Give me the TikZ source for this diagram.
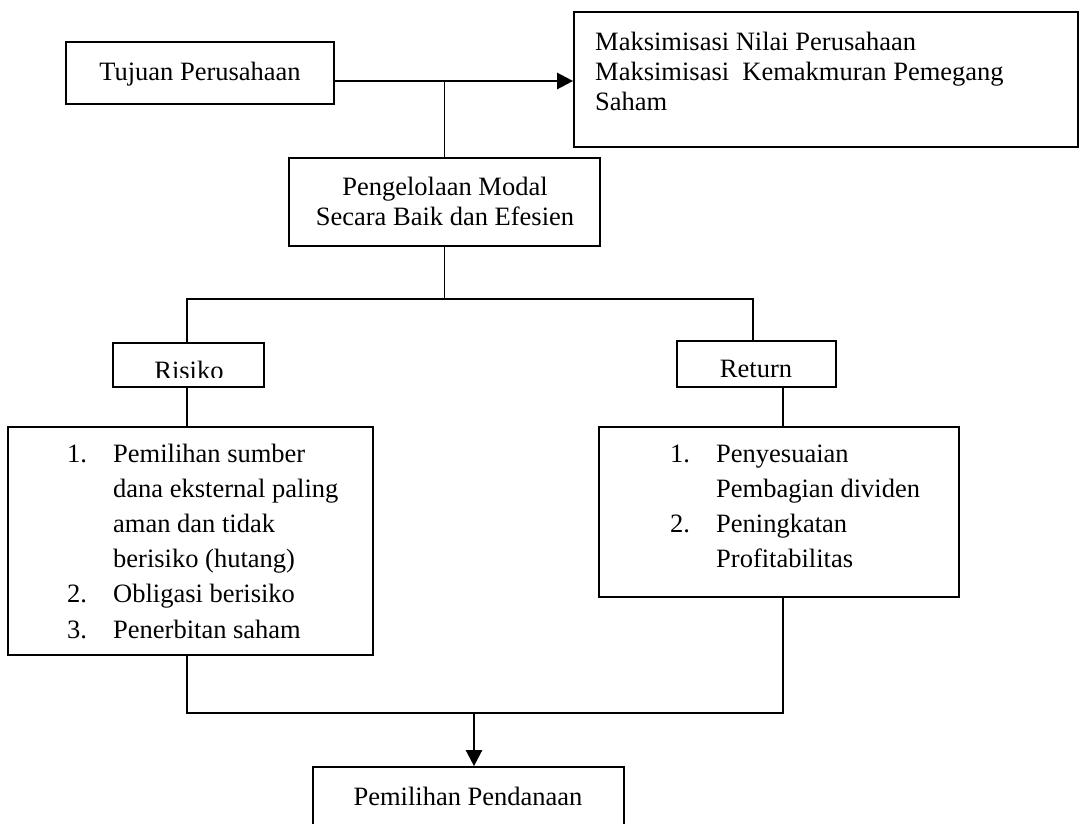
\documentclass[tikz,border=0pt]{standalone}
\usepackage{fontspec}
\setmainfont{Liberation Serif}
\usetikzlibrary{arrows.meta}
\begin{document}
\begin{tikzpicture}[x=1pt,y=-1pt,
  box/.style={draw,line width=1.7pt,inner sep=0pt},
  txt/.style={inner sep=0pt,font=\fontsize{26.5pt}{30pt}\selectfont},
  listtxt/.style={inner sep=0pt,font=\fontsize{26.5pt}{35.2pt}\selectfont},
  conn/.style={line width=1.7pt},
  arr/.style={line width=2.4pt,-{Triangle[length=16pt,width=16pt]}}]
\clip (0,0) rectangle (1081,823);
% boxes
\node[box,minimum width=268pt,minimum height=62pt] (tuj) at (200,73) {};
\node[txt,anchor=base] (tujT) at (200,80) {Tujuan Perusahaan};
\node[box,minimum width=504pt,minimum height=135pt] (tr) at (826,79.5) {};
\node[txt,anchor=base west] (trT) at (595,50) {\begin{tabular}[t]{@{}l@{}}Maksimisasi Nilai Perusahaan\\Maksimisasi~ Kemakmuran Pemegang\\Saham\end{tabular}};
\node[box,minimum width=311pt,minimum height=88pt] (peng) at (444.5,202) {};
\node[txt,anchor=base] (pengT) at (445,195) {\begin{tabular}[t]{@{}c@{}}Pengelolaan Modal\\Secara Baik dan Efesien\end{tabular}};
\node[box,minimum width=151pt,minimum height=44pt] (ris) at (188.5,365) {};
\begin{scope}
\clip (100,330) rectangle (280,377.5);
\node[txt,anchor=base] (risT) at (189,379) {Risiko};
\end{scope}
\node[box,minimum width=159pt,minimum height=46pt] (ret) at (756.5,364) {};
\node[txt,anchor=base] (retT) at (756,377) {Return};
\node[box,minimum width=365pt,minimum height=228pt] (listA) at (190.5,541) {};
\node[listtxt,anchor=base west] (listAT) at (67,462) {\begin{tabular}[t]{@{}p{46pt}@{}l@{}}
1. & Pemilihan sumber\\
   & dana eksternal paling\\
   & aman dan tidak\\
   & berisiko (hutang)\\
2. & Obligasi berisiko\\
3. & Penerbitan saham
\end{tabular}};
\node[box,minimum width=360pt,minimum height=170pt] (listB) at (779,512) {};
\node[listtxt,anchor=base west] (listBT) at (670,462) {\begin{tabular}[t]{@{}p{46pt}@{}l@{}}
1. & Penyesuaian\\
   & Pembagian dividen\\
2. & Peningkatan\\
   & Profitabilitas
\end{tabular}};
\node[box,minimum width=311pt,minimum height=83pt] (bot) at (468.5,808.5) {};
\node[txt,anchor=base] (botT) at (468,805) {Pemilihan Pendanaan};
% connectors
\coordinate (a1) at ([yshift=-8pt]tuj.east);
\draw[arr] (a1) -- (a1 -| tr.west);
\coordinate (j1) at (a1 -| peng.north);
\draw[conn] (j1) -- (peng.north);
\coordinate (j2) at ([yshift=-52pt]peng.south);
\draw[conn] (peng.south) -- (j2);
\coordinate (rl) at ([xshift=-1.5pt]ris.north);
\coordinate (rr) at ([xshift=-3.5pt]ret.north);
\draw[conn] (rl) -- (rl |- j2) -- (rr |- j2) -- (rr);
\draw[conn] (rl |- ris.south) -- (rl |- listA.north);
\coordinate (r1) at ([xshift=26.5pt]ret.south);
\draw[conn] (r1) -- (r1 |- listB.north);
\coordinate (j3) at ([yshift=-115pt]listB.south);
\draw[conn] (rl |- listA.south) -- (rl |- j3) -- (r1 |- j3) -- (r1 |- listB.south);
\coordinate (b1) at ([xshift=5.5pt]bot.north);
\draw[arr] (b1 |- j3) -- (b1);
\end{tikzpicture}
\end{document}
